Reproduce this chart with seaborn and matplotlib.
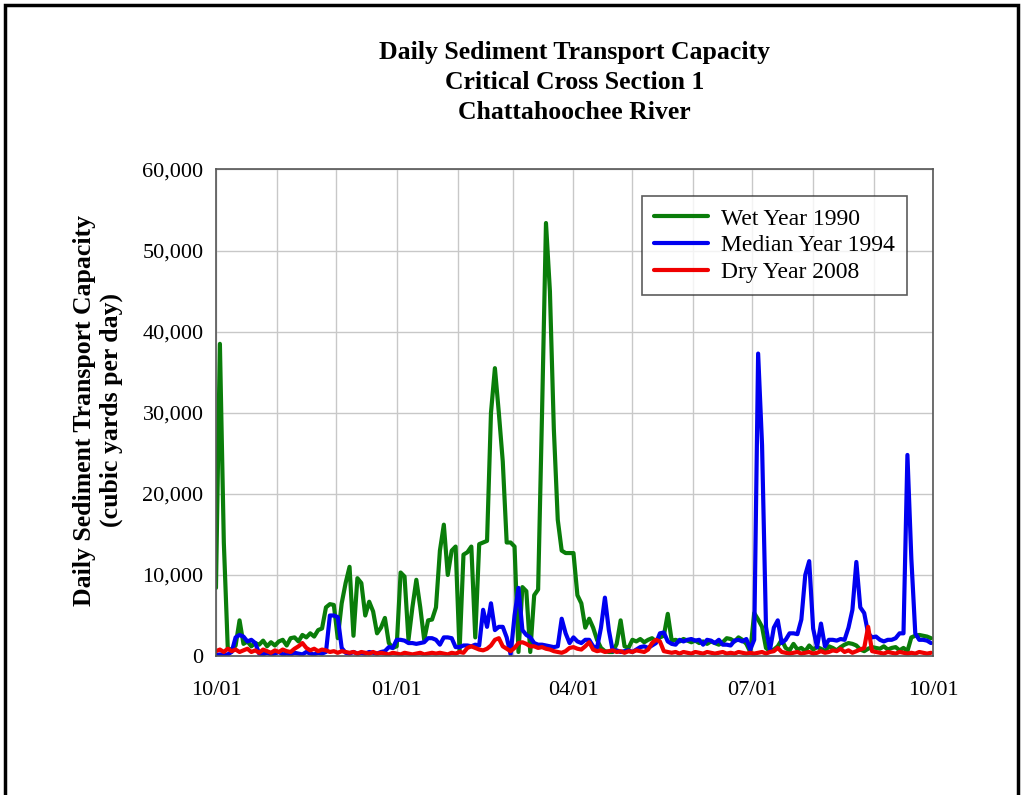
import matplotlib
matplotlib.use("Agg")
import matplotlib.pyplot as plt
import matplotlib.dates as mdates
from matplotlib.patches import Rectangle
from matplotlib.ticker import FuncFormatter, MultipleLocator
import numpy as np
import pandas as pd
import seaborn as sns

# Daily sediment transport capacity, sampled every second day of the water year
# (Oct 1 .. Sep 30), in thousands of cubic yards per day.
wet_1990 = [
    8.4, 38.5, 14.0, 1.0, 0.7, 1.3, 4.4, 1.5, 1.8, 1.2, 1.6, 1.4, 1.9, 1.2, 1.7, 1.3,
    1.8, 2.0, 1.3, 2.2, 2.3, 1.8, 2.6, 2.3, 2.8, 2.4, 3.2, 3.4, 6.0, 6.4, 6.3, 2.2,
    6.5, 9.0, 11.0, 2.5, 9.6, 9.0, 5.0, 6.7, 5.5, 2.8, 3.5, 4.7, 1.6, 1.0, 1.2, 10.3,
    9.8, 2.0, 6.0, 9.4, 6.0, 2.0, 4.4, 4.5, 6.0, 13.0, 16.2, 10.0, 13.0, 13.5, 0.6, 12.5,
    12.8, 13.5, 2.3, 13.8, 14.0, 14.2, 30.0, 35.5, 30.0, 24.0, 14.0, 14.0, 13.5, 0.5, 8.5, 8.0,
    0.5, 7.5, 8.2, 30.0, 53.4, 45.0, 28.0, 16.8, 13.0, 12.7, 12.7, 12.7, 7.5, 6.5, 3.5, 4.6,
    3.5, 2.0, 1.0, 0.6, 0.5, 0.5, 1.5, 4.4, 1.2, 1.0, 2.0, 1.8, 2.1, 1.7, 2.0, 2.2,
    1.8, 2.3, 2.5, 5.2, 1.9, 2.0, 1.8, 2.1, 1.9, 1.7, 1.9, 1.6, 1.8, 1.5, 1.8, 1.6,
    1.4, 1.7, 2.2, 2.1, 1.8, 2.3, 2.0, 1.5, 0.5, 5.3, 4.5, 3.6, 1.0, 0.6, 0.8, 1.2,
    2.0, 1.0, 0.7, 1.5, 0.8, 1.0, 0.6, 1.3, 0.8, 1.1, 0.9, 0.6, 1.2, 1.0, 0.7, 1.1,
    1.4, 1.6, 1.5, 1.3, 0.8, 0.6, 0.9, 1.1, 1.0, 0.9, 1.2, 0.8, 1.0, 1.1, 0.7, 1.0,
    0.6, 2.3, 2.5, 2.6, 2.5, 2.4, 2.2,
]

median_1994 = [
    0.1, 0.2, 0.1, 0.2, 0.5, 2.3, 2.6, 2.4, 1.8, 2.0, 1.6, 0.3, 0.2, 0.4, 0.2, 0.3,
    0.5, 0.2, 0.3, 0.2, 0.4, 0.3, 0.2, 0.5, 0.3, 0.2, 0.4, 0.3, 0.5, 5.0, 5.0, 4.8,
    1.0, 0.4, 0.3, 0.5, 0.3, 0.4, 0.3, 0.5, 0.4, 0.3, 0.5, 0.6, 1.1, 1.0, 2.0, 2.0,
    1.9, 1.6, 1.6, 1.5, 1.6, 1.7, 2.2, 2.2, 2.0, 1.4, 2.3, 2.3, 2.2, 1.1, 1.1, 1.3,
    1.3, 1.2, 1.4, 1.3, 5.7, 3.6, 6.5, 3.2, 3.6, 3.6, 2.3, 0.2, 5.0, 8.4, 3.2, 2.6,
    2.3, 1.6, 1.4, 1.4, 1.3, 1.2, 1.1, 1.2, 4.6, 2.8, 1.6, 2.3, 1.8, 1.6, 2.0, 2.0,
    1.2, 1.0, 3.5, 7.2, 3.2, 0.6, 0.7, 0.5, 0.6, 0.7, 0.5, 0.8, 1.1, 1.2, 1.0, 1.3,
    1.6, 2.8, 2.9, 1.8, 1.5, 1.4, 2.0, 1.8, 2.0, 2.1, 1.9, 2.0, 1.4, 2.0, 1.9, 1.6,
    2.0, 1.4, 1.4, 1.3, 1.9, 2.0, 1.8, 2.1, 0.8, 2.0, 37.3, 26.0, 3.6, 0.7, 3.5, 4.4,
    1.6, 2.0, 2.8, 2.8, 2.7, 4.5, 10.0, 11.7, 3.4, 1.1, 4.0, 1.2, 2.0, 2.0, 1.9, 2.1,
    2.0, 3.5, 5.7, 11.6, 6.0, 5.3, 2.8, 2.3, 2.4, 2.0, 1.8, 2.0, 2.0, 2.2, 2.8, 2.8,
    24.8, 12.0, 2.8, 2.0, 2.0, 1.9, 1.6,
]

dry_2008 = [
    0.6, 0.8, 0.5, 0.9, 0.6, 0.8, 0.5, 0.7, 0.9, 0.5, 0.7, 0.4, 0.8, 0.6, 0.4, 0.7,
    0.5, 0.8, 0.6, 0.5, 0.9, 1.2, 1.6, 1.0, 0.7, 0.9, 0.6, 0.8, 0.7, 0.5, 0.6, 0.4,
    0.6, 0.5, 0.4, 0.5, 0.3, 0.5, 0.4, 0.3, 0.5, 0.3, 0.4, 0.3, 0.2, 0.4, 0.3, 0.2,
    0.4, 0.3, 0.2, 0.3, 0.4, 0.2, 0.3, 0.4, 0.3, 0.4, 0.3, 0.2, 0.4, 0.3, 0.5, 0.4,
    1.0, 1.2, 1.0, 0.8, 0.7, 0.9, 1.3, 2.0, 2.2, 1.2, 0.9, 0.6, 1.0, 1.6, 1.7, 1.5,
    1.2, 1.2, 1.0, 1.1, 0.9, 0.8, 0.6, 0.5, 0.4, 0.6, 1.0, 1.1, 0.9, 0.8, 1.2, 1.7,
    0.8, 0.6, 0.7, 0.5, 0.6, 0.7, 0.5, 0.6, 0.4, 0.6, 0.5, 0.7, 0.6, 0.5, 0.8, 1.6,
    2.0, 1.8, 0.6, 0.5, 0.4, 0.5, 0.3, 0.5, 0.4, 0.3, 0.5, 0.4, 0.3, 0.5, 0.4, 0.3,
    0.4, 0.5, 0.3, 0.4, 0.3, 0.5, 0.4, 0.3, 0.4, 0.3, 0.4, 0.5, 0.3, 0.5, 0.6, 1.0,
    0.5, 0.4, 0.3, 0.4, 0.5, 0.3, 0.4, 0.5, 0.3, 0.4, 0.6, 0.4, 0.5, 0.7, 0.6, 0.9,
    0.5, 0.7, 0.4, 0.6, 0.8, 1.0, 3.6, 0.6, 0.5, 0.4, 0.3, 0.5, 0.4, 0.3, 0.5, 0.4,
    0.3, 0.4, 0.3, 0.5, 0.4, 0.3, 0.4,
]

series_names = ["Wet Year 1990", "Median Year 1994", "Dry Year 2008"]
series_colors = ["#0a7d0a", "#0000f0", "#f00000"]
x_tick_labels = ["10/01", "01/01", "04/01", "07/01", "10/01"]

# Common water-year calendar (non-leap) for all three years
dates = pd.date_range("2001-10-01", periods=len(wet_1990), freq="2D")
frames = []
for name, vals in zip(series_names, [wet_1990, median_1994, dry_2008]):
    frames.append(pd.DataFrame({"date": dates,
                                "capacity": np.asarray(vals) * 1000.0,
                                "series": name}))
df = pd.concat(frames, ignore_index=True)

sns.set_theme(style="white")
plt.rcParams["font.family"] = ["Liberation Serif", "DejaVu Serif"]
plt.rcParams["text.color"] = "black"
plt.rcParams["xtick.color"] = "black"
plt.rcParams["ytick.color"] = "black"

fig = plt.figure(figsize=(10.25, 7.95), dpi=100)
ax = fig.add_axes([0.2107, 0.1748, 0.6995, 0.612])

sns.lineplot(data=df, x="date", y="capacity", hue="series",
             hue_order=series_names, palette=dict(zip(series_names, series_colors)),
             linewidth=3.0, ax=ax, legend=True)

start = pd.Timestamp("2001-10-01")
end = pd.Timestamp("2002-10-01")
ax.set_xlim(start, end)
ax.set_ylim(0, 60000)

ax.xaxis.set_major_locator(mdates.MonthLocator(bymonth=[1, 4, 7, 10]))
ax.xaxis.set_minor_locator(mdates.MonthLocator())
ax.xaxis.set_major_formatter(FuncFormatter(
    lambda v, pos: x_tick_labels[pos] if pos is not None and pos < len(x_tick_labels) else ""))
ax.yaxis.set_major_locator(MultipleLocator(10000))
ax.yaxis.set_major_formatter(FuncFormatter(lambda v, pos: f"{v:,.0f}"))

ax.grid(True, which="both", color="#c8c8c8", linewidth=1.0)
ax.set_axisbelow(True)
for s in ax.spines.values():
    s.set_color("#555555")
    s.set_linewidth(1.2)

ax.tick_params(axis="x", which="major", direction="out", length=4, width=1,
               color="#555555", labelcolor="black", pad=14, labelsize=16)
ax.tick_params(axis="x", which="minor", length=0)
ax.tick_params(axis="y", which="major", direction="out", length=4, width=1,
               color="#555555", labelcolor="black", pad=5, labelsize=16)
ax.set_xlabel("")
ax.set_ylabel("")

leg = ax.legend(loc="upper right", bbox_to_anchor=(0.964, 0.945), fontsize=17,
                frameon=True, fancybox=False, edgecolor="#333333",
                handlelength=2.3, handletextpad=0.55, labelspacing=0.22,
                borderpad=0.5, borderaxespad=0)
leg.get_frame().set_linewidth(1.2)
for line in leg.get_lines():
    line.set_linewidth(3.0)
for t in leg.get_texts():
    t.set_color("black")

fig.text(0.5605, 0.896,
         "Daily Sediment Transport Capacity\nCritical Cross Section 1\nChattahoochee River",
         ha="center", va="center", fontsize=18.5, fontweight="bold", linespacing=1.4,
         color="black")

fig.text(0.096, 0.484,
         "Daily Sediment Transport Capacity\n(cubic yards per day)",
         ha="center", va="center", rotation=90, fontsize=18.5, fontweight="bold",
         linespacing=1.2, color="black")

# Page frame around the figure
fig.patches.append(Rectangle((0.005, -0.05), 0.988, 1.044, transform=fig.transFigure,
                             fill=False, edgecolor="black", linewidth=2.5))

fig.savefig("out.png", dpi=100)
